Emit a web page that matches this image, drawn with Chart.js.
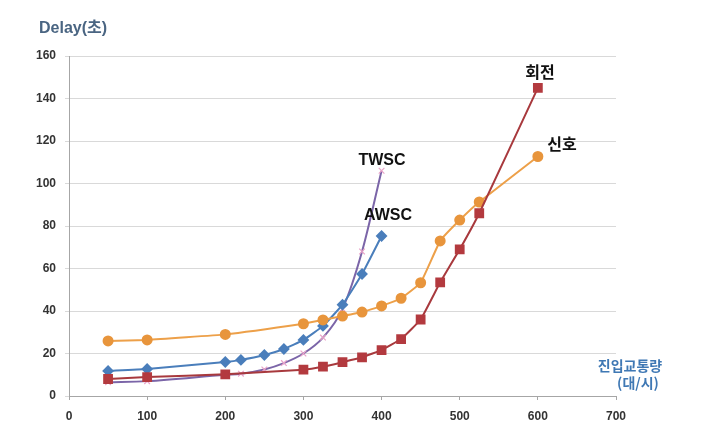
<!DOCTYPE html>
<html>
<head>
<meta charset="utf-8">
<script src="https://cdn.jsdelivr.net/npm/chart.js@4/dist/chart.umd.min.js"></script>
<style>
html,body{margin:0;padding:0;background:#fff;}
#wrap{width:718px;height:441px;position:relative;}
</style>
</head>
<body>
<div id="wrap"><canvas id="c" width="718" height="441"></canvas></div>
<script>
// ---- data ----
const xTicks = [0,100,200,300,400,500,600,700];
const yTicks = [0,20,40,60,80,100,120,140,160];

const twscX = [50,100,200,220,250,275,300,325,350,375,400];
const twscY = [6.5,7,10,10.5,12.5,15.5,20,27.5,41,68,106];

const awscX = [50,100,200,220,250,275,300,325,350,375,400];
const awscY = [11.8,12.7,16,17,19.3,22.1,26.4,33,43,57.4,75.3];

const signalX = [50,100,200,300,325,350,375,400,425,450,475,500,525,600];
const signalY = [25.9,26.4,29,34,35.8,37.6,39.5,42.4,46,53.3,73,82.8,91.3,112.7];

const roundX = [50,100,200,300,325,350,375,400,425,450,475,500,525,600];
const roundY = [8,8.9,10.2,12.4,13.8,15.9,18.2,21.6,26.8,36,53.5,69,86,145];

const seriesNames = ['TWSC','AWSC','신호','회전'];
const yTitle = 'Delay(초)';
const xTitle1 = '진입교통량';
const xTitle2 = '(대/시)';

function pts(xs, ys){ return xs.map((x,i)=>({x:x, y:ys[i]})); }

const labelPlugin = {
  id:'labels',
  afterDraw(chart){
    const ctx = chart.ctx;
    ctx.save();
    ctx.textAlign='center';
    ctx.textBaseline='middle';
    ctx.fillStyle='#111';
    ctx.font='bold 16px "Liberation Sans", "Noto Sans CJK KR", sans-serif';
    ctx.fillText(seriesNames[0], 382, 161);
    ctx.fillText(seriesNames[1], 388, 216);
    ctx.font='bold 16px "Noto Sans CJK KR", sans-serif';
    ctx.fillText(seriesNames[3], 540, 72);
    ctx.fillText(seriesNames[2], 562, 144);
    ctx.fillStyle='#3f78b4';
    ctx.font='bold 14px "Noto Sans CJK KR", sans-serif';
    ctx.fillText(xTitle1, 630, 366);
    ctx.fillText(xTitle2, 638, 383);
    ctx.textAlign='left';
    ctx.fillStyle='#4a6582';
    ctx.font='bold 16px "Liberation Sans", "Noto Sans CJK KR", sans-serif';
    ctx.fillText(yTitle, 39, 29);
    ctx.restore();
  }
};

new Chart(document.getElementById('c'), {
  type:'line',
  data:{
    datasets:[
      {label:seriesNames[0], data:pts(twscX,twscY), borderColor:'#7b65a8', borderWidth:2,
       pointStyle:'crossRot', pointRadius:4, pointBorderColor:'#e9a3c9', pointBackgroundColor:'#e9a3c9', pointBorderWidth:1.2,
       cubicInterpolationMode:'monotone', fill:false, order:4},
      {label:seriesNames[1], data:pts(awscX,awscY), borderColor:'#4a7ebb', borderWidth:2,
       pointStyle:'rectRot', pointRadius:4.5, pointBackgroundColor:'#4a7ebb', pointBorderColor:'#4a7ebb',
       tension:0.15, fill:false, order:3},
      {label:seriesNames[2], data:pts(signalX,signalY), borderColor:'#eda049', borderWidth:2,
       pointStyle:'circle', pointRadius:4.5, pointBackgroundColor:'#e8953c', pointBorderColor:'#e8953c',
       tension:0.1, fill:false, order:2},
      {label:seriesNames[3], data:pts(roundX,roundY), borderColor:'#a8393d', borderWidth:2,
       pointStyle:'rect', pointRadius:5.5, pointBackgroundColor:'#b33a3f', pointBorderColor:'#b33a3f',
       tension:0.1, fill:false, order:1}
    ]
  },
  options:{
    responsive:false,
    animation:false,
    devicePixelRatio:1,
    layout:{padding:{top:56,right:102,left:0,bottom:0}},
    plugins:{legend:{display:false}, tooltip:{enabled:false}},
    scales:{
      x:{
        type:'linear', min:0, max:700,
        afterBuildTicks(s){ s.ticks = xTicks.map(v=>({value:v})); },
        afterFit(s){ s.height = 45; },
        grid:{drawOnChartArea:false, drawTicks:true, tickLength:4, color:'#a6a6a6'},
        border:{color:'#a6a6a6', width:1},
        ticks:{padding:9, color:'#333', font:{family:'"Liberation Sans", sans-serif', size:12, weight:'bold'}, maxRotation:0}
      },
      y:{
        type:'linear', min:0, max:160,
        afterBuildTicks(s){ s.ticks = yTicks.map(v=>({value:v})); },
        afterFit(s){ s.width = 69; },
        grid:{color:'#d9d9d9', drawTicks:true, tickLength:4, lineWidth:1},
        border:{color:'#a6a6a6', width:1},
        ticks:{padding:9, color:'#333', font:{family:'"Liberation Sans", sans-serif', size:12, weight:'bold'}}
      }
    }
  },
  plugins:[labelPlugin]
});
</script>
</body>
</html>
